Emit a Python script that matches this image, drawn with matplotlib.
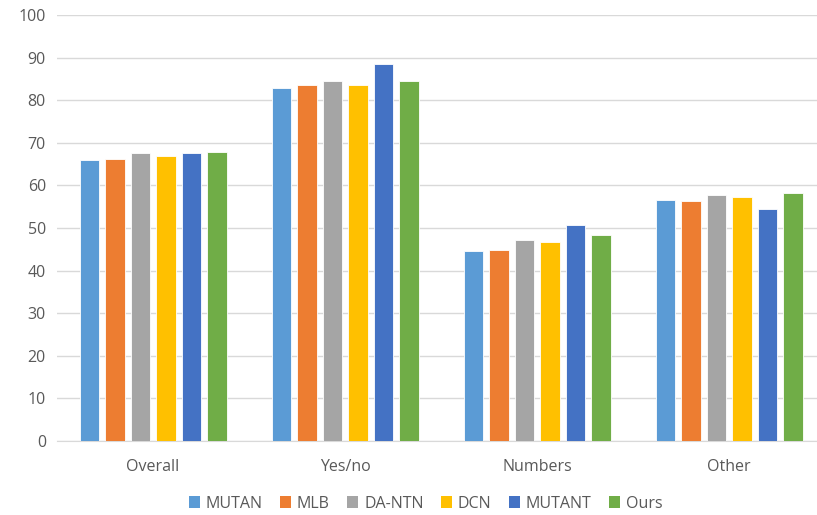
import numpy as np
import matplotlib.pyplot as plt
from matplotlib.patches import Patch

categories = ["Overall", "Yes/no", "Numbers", "Other"]
methods = ["MUTAN", "MLB", "DA-NTN", "DCN", "MUTANT", "Ours"]
mutan = [66.0, 82.9, 44.5, 56.5]
mlb = [66.2, 83.6, 44.9, 56.3]
da_ntn = [67.5, 84.4, 47.2, 57.8]
dcn = [66.8, 83.6, 46.6, 57.2]
mutant = [67.5, 88.6, 50.7, 54.5]
ours = [67.8, 84.4, 48.3, 58.1]
yticks = list(range(0, 101, 10))

colors = ["#5B9BD5", "#ED7D31", "#A5A5A5", "#FFC000", "#4472C4", "#70AD47"]
series = [mutan, mlb, da_ntn, dcn, mutant, ours]

plt.rcParams['font.family'] = ['Open Sans', 'DejaVu Sans']
fig = plt.figure(figsize=(8.17, 5.15), dpi=100)
# plot area runs a little past the right edge of the canvas
ax = fig.add_axes([0.0698, 0.1437, 0.940, 0.8273])

x = np.arange(len(categories))
step = 0.1328
width = 0.1016
for i, (vals, c) in enumerate(zip(series, colors)):
    ax.bar(x + (i - 2.5) * step, vals, width, color=c, edgecolor="white",
           linewidth=0.6, zorder=3)

ax.set_xlim(-0.5, 3.5)
ax.set_ylim(0, 100)
ax.set_yticks(yticks)
ax.set_xticks(x)
ax.set_xticklabels(categories)
ax.tick_params(axis="both", length=0, colors="#595959", labelsize=11.5)
ax.tick_params(axis="x", pad=13)
ax.tick_params(axis="y", pad=8)
ax.grid(axis="y", color="#D9D9D9", linewidth=1, zorder=0)
for s in ["top", "right", "left"]:
    ax.spines[s].set_visible(False)
ax.spines["bottom"].set_color("#D9D9D9")

handles = [Patch(facecolor=c, label=m) for m, c in zip(methods, colors)]
fig.legend(handles=handles, loc="center", bbox_to_anchor=(0.521, 0.022), ncol=6,
           frameon=False, handlelength=0.7, handleheight=0.7, handletextpad=0.35,
           columnspacing=1.1, fontsize=11.5, labelcolor="#595959")

fig.savefig("out.png", dpi=100)
